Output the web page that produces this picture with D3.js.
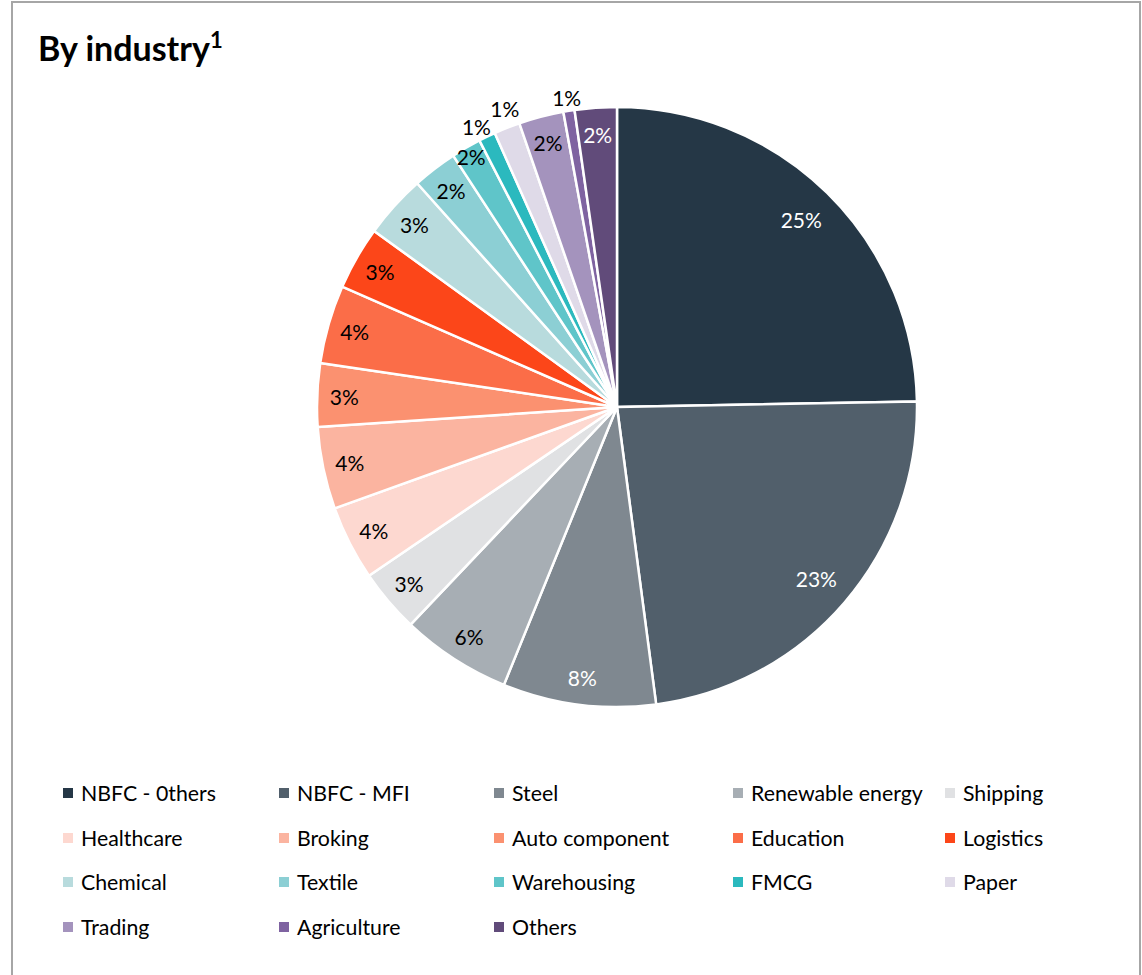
<!DOCTYPE html>
<html>
<head>
<meta charset="utf-8">
<script src="https://cdn.jsdelivr.net/npm/d3@7"></script>
<style>
html,body{margin:0;padding:0;background:#fff;}
svg{display:block;}
</style>
</head>
<body>
<svg id="chart" width="1142" height="975"></svg>
<script>
const categories = ["NBFC - 0thers","NBFC - MFI","Steel","Renewable energy","Shipping","Healthcare","Broking","Auto component","Education","Logistics","Chemical","Textile","Warehousing","FMCG","Paper","Trading","Agriculture","Others"];
const values = [24.6,23.1,8.2,5.9,3.4,4.0,4.4,3.4,4.2,3.4,3.4,2.4,1.6,0.9,1.4,2.4,0.6,2.25];
const labels = ["25%","23%","8%","6%","3%","4%","4%","3%","4%","3%","3%","2%","2%","1%","1%","2%","1%","2%"];
const colors = ["#253746","#515f6b","#7f8890","#a7aeb4","#e0e1e3","#fdd8d0","#fbb4a0","#fb9170","#fb6d48","#fc4619","#b8dbdd","#8ccfd4","#5fc5c9","#2bb9be","#dfdae8","#a493bd","#7f63a1","#614b7a"];
const darkText = ["NBFC - 0thers","NBFC - MFI","Steel","Others"];

const svg = d3.select("#chart");
const font = "Lato, 'Open Sans', sans-serif";

// frame
svg.append("rect").attr("x",12).attr("y",2).attr("width",1128).attr("height",990)
  .attr("fill","none").attr("stroke","#a6a6a6").attr("stroke-width",2);

// title
const title = svg.append("text").attr("x",38).attr("y",61)
  .attr("font-family",font).attr("font-weight",700).attr("font-size",34).attr("fill","#000");
title.append("tspan").text("By industry");
title.append("tspan").attr("font-size",22).attr("dy",-13).text("1");

const cx = 617, cy = 407, R = 300;
const color = d3.scaleOrdinal().domain(categories).range(colors);
const pie = d3.pie().sort(null).value(d => d.v);
const data = categories.map((c,i) => ({c, v: values[i], l: labels[i]}));
const arcs = pie(data);
const arc = d3.arc().innerRadius(0).outerRadius(R);

const g = svg.append("g").attr("transform",`translate(${cx},${cy})`);
g.selectAll("path").data(arcs).enter().append("path")
  .attr("d",arc).attr("fill",d => color(d.data.c))
  .attr("stroke","#fff").attr("stroke-width",2.5).attr("stroke-linejoin","round");

// label placement: inside for larger slices, outside for the smallest, spread apart
arcs.forEach(d => {
  d.la = (d.startAngle + d.endAngle)/2;
  d.outside = d.data.v < 1.5;
  if (d.outside) d.lr = 314;
  else if (d.data.v < 2) d.lr = 290;
  else if (d.data.v > 20) d.lr = 263;
  else d.lr = 273;
});
const minSep = 6 * Math.PI/180;
for (let i = 1; i < arcs.length; i++) {
  const a = arcs[i-1], b = arcs[i];
  if (a.outside && b.outside && b.la - a.la < minSep) {
    const mid = (a.la + b.la)/2;
    a.la = mid - minSep/2; b.la = mid + minSep/2;
    b.lr += 5;
  }
}
g.selectAll("text.lbl").data(arcs).enter().append("text")
  .attr("class","lbl")
  .attr("transform", d => `translate(${d.lr*Math.sin(d.la)},${-d.lr*Math.cos(d.la)})`)
  .attr("text-anchor","middle").attr("dominant-baseline","central")
  .attr("font-family",font).attr("font-size",21)
  .attr("fill", d => (darkText.includes(d.data.c) && !d.outside) ? "#fff" : "#000")
  .text(d => d.data.l);

// legend
const colX = [63,279,494,733,945];
const rowY = [793,838,882,927];
const lg = svg.append("g");
categories.forEach((c,i) => {
  const col = i % 5, row = Math.floor(i/5);
  const x = colX[col], y = rowY[row];
  lg.append("rect").attr("x",x).attr("y",y-5).attr("width",10).attr("height",10).attr("fill",color(c));
  lg.append("text").attr("x",x+18).attr("y",y).attr("dominant-baseline","central")
    .attr("font-family",font).attr("font-size",21.3).attr("fill","#000").text(c);
});
</script>
</body>
</html>
